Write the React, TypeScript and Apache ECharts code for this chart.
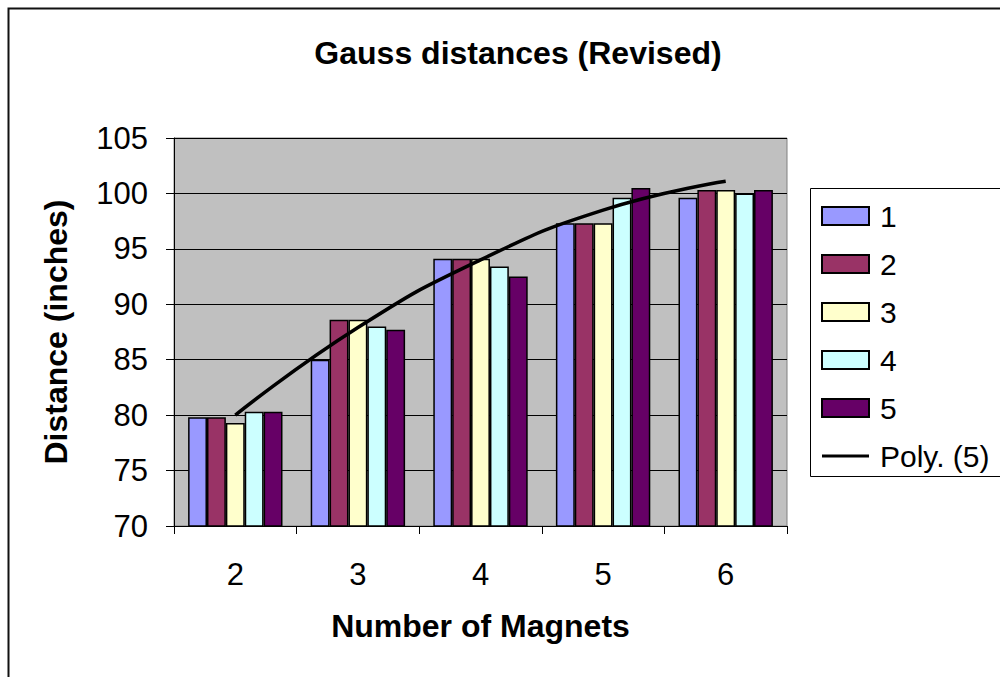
import React, { useEffect, useRef } from "react";
import * as echarts from "echarts";

const categories = ["2", "3", "4", "5", "6"];
const seriesNames = ["1", "2", "3", "4", "5"];
const series1 = [79.8, 85.0, 94.1, 97.3, 99.6];
const series2 = [79.8, 88.6, 94.1, 97.3, 100.3];
const series3 = [79.3, 88.6, 94.1, 97.3, 100.3];
const series4 = [80.3, 88.0, 93.4, 99.6, 100.0];
const series5 = [80.3, 87.7, 92.5, 100.5, 100.3];
const trendName = "Poly. (5)";
const trendValues = [80.0, 87.9, 94.0, 98.5, 101.1];
const barColors = ["#9999FF", "#993366", "#FFFFCC", "#CCFFFF", "#660066"];

const FONT = "'Liberation Sans', Arial, sans-serif";

export default function App() {
  const ref = useRef<HTMLDivElement>(null);
  useEffect(() => {
    if (!ref.current) return;
    const chart = echarts.init(ref.current, null, { renderer: "svg" });
    const allBars = [series1, series2, series3, series4, series5];
    const option: any = {
      animation: false,
      backgroundColor: "#ffffff",
      textStyle: { fontFamily: FONT },
      title: {
        text: "Gauss distances (Revised)",
        left: 513,
        top: 32,
        textAlign: "center",
        textStyle: { fontFamily: FONT, fontSize: 32, fontWeight: "bold", color: "#000" },
      },
      graphic: [
        {
          type: "rect",
          shape: { x: 8.5, y: 8.5, width: 1200, height: 900 },
          style: { fill: "none", stroke: "#111", lineWidth: 2 },
          z: -1,
        },
        {
          type: "rect",
          shape: { x: 810.5, y: 188.5, width: 300, height: 288 },
          style: { fill: "#fff", stroke: "#000", lineWidth: 1 },
          z: 0,
        },
      ],
      legend: {
        orient: "vertical",
        left: 821,
        top: 201,
        itemWidth: 47,
        itemHeight: 18,
        itemGap: 18,
        padding: 0,
        z: 10,
        data: [
          ...seriesNames.map((n) => ({ name: n, icon: "rect" })),
          { name: trendName, icon: "path://M0 0 H47 V3 H0 Z", itemStyle: { color: "#000" } },
        ],
        textStyle: { fontFamily: FONT, fontSize: 30, color: "#000", padding: [0, 0, 0, 6] },
      },
      grid: {
        left: 174,
        right: 213,
        top: 138,
        bottom: 151,
        show: true,
        backgroundColor: "#C0C0C0",
        borderColor: "#808080",
        borderWidth: 1,
      },
      xAxis: {
        type: "category",
        data: categories,
        name: "Number of Magnets",
        nameLocation: "middle",
        nameGap: 84,
        nameTextStyle: { fontFamily: FONT, fontSize: 32, fontWeight: "bold", color: "#000" },
        axisLine: { show: true, lineStyle: { color: "#000", width: 1 } },
        axisTick: { show: true, length: 8, lineStyle: { color: "#000" } },
        axisLabel: { fontFamily: FONT, fontSize: 31, color: "#000", margin: 33 },
      },
      yAxis: {
        type: "value",
        min: 70,
        max: 105,
        interval: 5,
        name: "Distance (inches)",
        nameLocation: "middle",
        nameRotate: 90,
        nameGap: 102,
        nameTextStyle: { fontFamily: FONT, fontSize: 32, fontWeight: "bold", color: "#000" },
        axisLine: { show: true, lineStyle: { color: "#000", width: 1 } },
        axisTick: { show: true, length: 8, lineStyle: { color: "#000" } },
        axisLabel: { fontFamily: FONT, fontSize: 31, color: "#000", margin: 26 },
        splitLine: { show: true, lineStyle: { color: "#000", width: 1 } },
      },
      series: [
        ...allBars.map((d, i) => ({
          name: seriesNames[i],
          type: "bar",
          data: d,
          barGap: "0%",
          barCategoryGap: "23%",
          itemStyle: { color: barColors[i], borderColor: "#000", borderWidth: 1.5 },
        })),
        {
          name: trendName,
          type: "line",
          data: trendValues,
          smooth: true,
          symbol: "none",
          lineStyle: { color: "#000", width: 3.5 },
          itemStyle: { color: "#000" },
          z: 5,
        },
      ],
    };
    chart.setOption(option);
    return () => chart.dispose();
  }, []);
  return (
    <div
      ref={ref}
      style={{ position: "fixed", left: 0, top: 0, width: 1000, height: 677, background: "#fff" }}
    />
  );
}
